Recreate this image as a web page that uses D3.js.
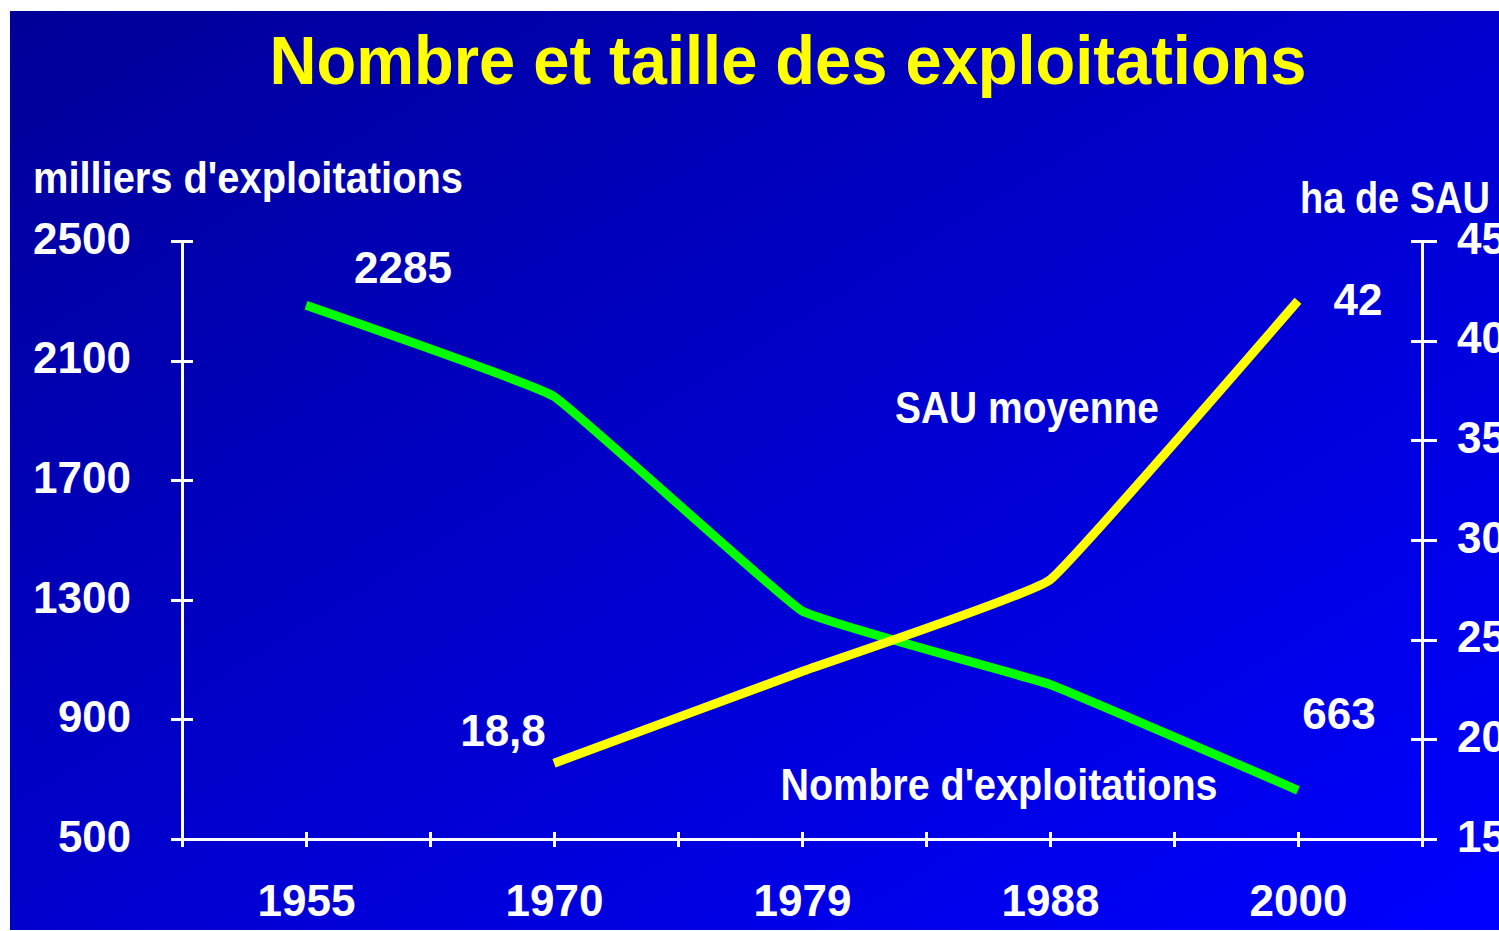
<!DOCTYPE html>
<html>
<head>
<meta charset="utf-8">
<script src="https://cdn.jsdelivr.net/npm/d3@7"></script>
<style>
  html, body { margin: 0; padding: 0; background: #fff; }
  svg text { font-family: "Liberation Sans", Arial, sans-serif; font-weight: bold; }
</style>
</head>
<body>
<div id="chart-div"></div>
<script>
// ------------------------------------------------------------------
//  DATA
// ------------------------------------------------------------------
const years = ["1955", "1970", "1979", "1988", "2000"]
const exploitations = [2285, 1980, 1263, 1017, 663]        // milliers
const sauMoyenne = [null, 18.8, 23.4, 28, 42]              // ha
const leftTicks = [500, 900, 1300, 1700, 2100, 2500]
const rightTicks = [15, 20, 25, 30, 35, 40, 45]
const valueLabels = ["2285", "18,8", "663", "42"]

// ------------------------------------------------------------------
//  CONSTANTS
// ------------------------------------------------------------------
const WIDTH = 1499
const HEIGHT = 931
const MARGIN_LEFT = 182
const MARGIN_RIGHT = 77
const MARGIN_TOP = 241
const MARGIN_BOTTOM = 92

const svg = d3.select("#chart-div").append("svg")
  .attr("width", WIDTH)
  .attr("height", HEIGHT)

// background panel with the blue gradient
const defs = svg.append("defs")
const grad = defs.append("linearGradient")
  .attr("id", "bg")
  .attr("x1", 0).attr("y1", 0).attr("x2", 1).attr("y2", 1)
grad.append("stop").attr("offset", "0%").attr("stop-color", "#000098")
grad.append("stop").attr("offset", "55%").attr("stop-color", "#0000D2")
grad.append("stop").attr("offset", "100%").attr("stop-color", "#0000FF")

svg.append("rect")
  .attr("x", 10).attr("y", 11)
  .attr("width", WIDTH - 10).attr("height", HEIGHT - 12)
  .attr("fill", "url(#bg)")

// scales
const x = d3.scalePoint()
  .domain(years)
  .range([MARGIN_LEFT, WIDTH - MARGIN_RIGHT])
  .padding(0.5)
const step = x.step()

const yLeft = d3.scaleLinear()
  .domain([500, 2500])
  .range([HEIGHT - MARGIN_BOTTOM, MARGIN_TOP])
const yRight = d3.scaleLinear()
  .domain([15, 45])
  .range([HEIGHT - MARGIN_BOTTOM, MARGIN_TOP])

const x0 = x.range()[0], x1 = x.range()[1]
const yBase = yLeft.range()[0], yTop = yLeft.range()[1]

// helper for text with a fixed width (the original font is condensed)
function label(txt, cx, baseline, size, len, color, anchor) {
  const t = svg.append("text")
    .attr("x", cx).attr("y", baseline)
    .attr("font-size", size)
    .attr("fill", color || "#fff")
    .attr("text-anchor", anchor || "middle")
    .text(txt)
  if (len) t.attr("textLength", len).attr("lengthAdjust", "spacingAndGlyphs")
  return t
}

// title + axis titles
label("Nombre et taille des exploitations", 788, 84, 68, 1037, "#FFFF00")
label("milliers d'exploitations", 33, 193, 44, 430, "#fff", "start")
label("ha de SAU", 1300, 213, 44, 190, "#fff", "start")

// ------------------------------------------------------------------
//  AXES
// ------------------------------------------------------------------
const axisStroke = g => g.selectAll("line, path")
  .attr("stroke", "#fff").attr("stroke-width", 3).attr("shape-rendering", "crispEdges")

const leftAxis = svg.append("g")
  .attr("transform", `translate(${x0},0)`)
  .call(d3.axisLeft(yLeft).tickValues(leftTicks).tickFormat(d3.format("d"))
    .tickSize(11).tickPadding(40).tickSizeOuter(0))
leftAxis.select(".domain").remove()
leftAxis.selectAll(".tick line").attr("x1", 11)
leftAxis.selectAll(".tick text")
  .attr("font-size", 44).attr("fill", "#fff").attr("dy", "0.28em")
  .attr("textLength", 98).attr("lengthAdjust", "spacingAndGlyphs")
leftAxis.selectAll(".tick text").filter(d => d < 1000).attr("textLength", 73)
leftAxis.call(axisStroke)

const rightAxis = svg.append("g")
  .attr("transform", `translate(${x1},0)`)
  .call(d3.axisRight(yRight).tickValues(rightTicks).tickSize(15).tickPadding(20).tickSizeOuter(0))
rightAxis.select(".domain").remove()
rightAxis.selectAll(".tick line").attr("x1", -11)
rightAxis.selectAll(".tick text")
  .attr("font-size", 44).attr("fill", "#fff").attr("dy", "0.28em")
rightAxis.call(axisStroke)

const bottomAxis = svg.append("g")
  .attr("transform", `translate(0,${yBase})`)
  .call(d3.axisBottom(x).tickSize(8).tickPadding(38).tickSizeOuter(0))
bottomAxis.select(".domain").remove()
bottomAxis.selectAll(".tick line").attr("y1", -7)
bottomAxis.selectAll(".tick text")
  .attr("font-size", 44).attr("fill", "#fff")
bottomAxis.call(axisStroke)

// boundary ticks between the years
const bounds = years.slice(0, -1).map(d => x(d) + step / 2)
svg.append("g").selectAll("line")
  .data(bounds)
  .join("line")
  .attr("x1", d => d).attr("x2", d => d)
  .attr("y1", yBase - 7).attr("y2", yBase + 8)
  .attr("stroke", "#fff").attr("stroke-width", 3).attr("shape-rendering", "crispEdges")

// axis lines
const axisLines = svg.append("g")
  .attr("stroke", "#fff").attr("stroke-width", 3).attr("shape-rendering", "crispEdges")
axisLines.append("line").attr("x1", x0).attr("x2", x0).attr("y1", yTop).attr("y2", yBase + 8)
axisLines.append("line").attr("x1", x1).attr("x2", x1).attr("y1", yTop).attr("y2", yBase + 8)
axisLines.append("line").attr("x1", x0 - 11).attr("x2", x1 + 15).attr("y1", yBase).attr("y2", yBase)

// ------------------------------------------------------------------
//  LINES
// ------------------------------------------------------------------
const lineLeft = d3.line()
  .x((d, i) => x(years[i]))
  .y(d => yLeft(d))
  .curve(d3.curveCardinal.tension(0.75))

const lineRight = d3.line()
  .defined(d => d != null)
  .x((d, i) => x(years[i]))
  .y(d => yRight(d))
  .curve(d3.curveCardinal.tension(0.75))

svg.append("path")
  .attr("d", lineLeft(exploitations))
  .attr("fill", "none")
  .attr("stroke", "#00FF00")
  .attr("stroke-width", 9)
  .attr("stroke-linejoin", "round")

svg.append("path")
  .attr("d", lineRight(sauMoyenne))
  .attr("fill", "none")
  .attr("stroke", "#FFFF00")
  .attr("stroke-width", 9)
  .attr("stroke-linejoin", "round")

// ------------------------------------------------------------------
//  LABELS
// ------------------------------------------------------------------
// value labels: text, anchor point (index/series) and offset
const labelPos = [
  { i: 0, y: yLeft(exploitations[0]), dx: 97, dy: -22 },
  { i: 1, y: yRight(sauMoyenne[1]), dx: -51, dy: -17 },
  { i: 4, y: yLeft(exploitations[4]), dx: 41, dy: -61 },
  { i: 4, y: yRight(sauMoyenne[4]), dx: 60, dy: 14 }
]
valueLabels.forEach((t, k) => {
  const p = labelPos[k]
  label(t, x(years[p.i]) + p.dx, p.y + p.dy, 44)
})

label("SAU moyenne", 1027, 423, 44, 264)
label("Nombre d'exploitations", 999, 800, 44, 437)
</script>
</body>
</html>
